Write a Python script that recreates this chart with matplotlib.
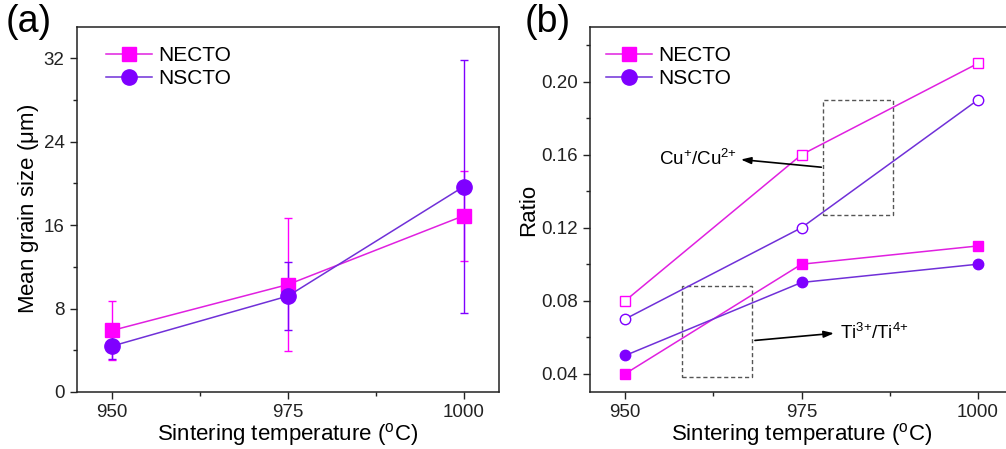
import numpy as np
import matplotlib
matplotlib.use("Agg")
import matplotlib.pyplot as plt
from matplotlib.lines import Line2D
from matplotlib.patches import Rectangle
from matplotlib.ticker import MultipleLocator, FormatStrFormatter

plt.rcParams['font.family'] = ['Liberation Sans', 'DejaVu Sans']
plt.rcParams['mathtext.fontset'] = 'custom'
plt.rcParams['mathtext.rm'] = 'Liberation Sans'
plt.rcParams['mathtext.it'] = 'Liberation Sans:italic'
plt.rcParams['mathtext.bf'] = 'Liberation Sans:bold'

# --- data ---
temps = [950, 975, 1000]

# (a) mean grain size (um) with error bars
necto_grain = [5.9, 10.3, 16.9]
necto_grain_err = [2.8, 6.4, 4.3]
nscto_grain = [4.4, 9.2, 19.7]
nscto_grain_err = [1.2, 3.3, 12.1]

# (b) ratios
necto_cu = [0.08, 0.16, 0.21]
nscto_cu = [0.07, 0.12, 0.19]
necto_ti = [0.04, 0.10, 0.11]
nscto_ti = [0.05, 0.09, 0.10]

C_E = '#ff00ff'
C_S = '#7f00ff'
L_E = '#e020e0'
L_S = '#7030d8'

fig = plt.figure(figsize=(10.06, 4.49), dpi=100)
ax1 = fig.add_axes([0.0765, 0.127, 0.4195, 0.813])
ax2 = fig.add_axes([0.5865, 0.127, 0.4205, 0.813])


def style_axis(ax):
    for s in ax.spines.values():
        s.set_linewidth(1.1)
        s.set_color('#222222')
    ax.tick_params(which='major', direction='out', length=5, width=1.0,
                   labelsize=13.5, colors='#222222', pad=4)
    ax.tick_params(which='minor', direction='out', length=3, width=1.0,
                   colors='#222222')
    ax.tick_params(top=False, right=False)
    ax.xaxis.set_major_locator(MultipleLocator(25))
    ax.xaxis.set_minor_locator(MultipleLocator(12.5))
    ax.set_xlim(945, 1005)
    ax.set_xlabel(r'Sintering temperature ($^{\mathrm{o}}$C)', fontsize=16, labelpad=0)


def legend_handles():
    return [Line2D([], [], color=L_E, lw=1.1, marker='s', ms=10, mfc=C_E, mec=C_E),
            Line2D([], [], color=L_S, lw=1.1, marker='o', ms=11, mfc=C_S, mec=C_S)]


# --- panel (a) ---
ax1.errorbar(temps, necto_grain, yerr=necto_grain_err, color=L_E, lw=1.1,
             marker='s', ms=10, mfc=C_E, mec=C_E, ecolor=C_E, elinewidth=1.0,
             capsize=3, capthick=1.0)
ax1.errorbar(temps, nscto_grain, yerr=nscto_grain_err, color=L_S, lw=1.1,
             marker='o', ms=11, mfc=C_S, mec=C_S, ecolor=C_S, elinewidth=1.0,
             capsize=3, capthick=1.0)
style_axis(ax1)
ax1.set_ylim(0, 35)
ax1.yaxis.set_major_locator(MultipleLocator(8))
ax1.yaxis.set_minor_locator(MultipleLocator(4))
ax1.set_ylabel(r'Mean grain size ($\mathrm{\mu}$m)', fontsize=16, labelpad=2)
ax1.legend(handles=legend_handles(), labels=['NECTO', 'NSCTO'],
           loc='upper left', bbox_to_anchor=(0.05, 0.97),
           frameon=False, fontsize=15, handlelength=2.2, handletextpad=0.3,
           labelspacing=0.2, borderaxespad=0)
fig.text(0.006, 0.952, '(a)', fontsize=27, va='center', ha='left')

# --- panel (b) ---
ax2.plot(temps, necto_cu, color=L_E, lw=1.1, marker='s', ms=6.5, mfc='white', mec=C_E, mew=1.0)
ax2.plot(temps, nscto_cu, color=L_S, lw=1.1, marker='o', ms=7.5, mfc='white', mec=C_S, mew=1.0)
ax2.plot(temps, necto_ti, color=L_E, lw=1.1, marker='s', ms=6.5, mfc=C_E, mec=C_E)
ax2.plot(temps, nscto_ti, color=L_S, lw=1.1, marker='o', ms=7.5, mfc=C_S, mec=C_S)
style_axis(ax2)
ax2.set_ylim(0.03, 0.23)
ax2.yaxis.set_major_locator(MultipleLocator(0.04))
ax2.yaxis.set_minor_locator(MultipleLocator(0.02))
ax2.yaxis.set_major_formatter(FormatStrFormatter('%.2f'))
ax2.set_ylabel('Ratio', fontsize=16, labelpad=1)

# dashed boxes and arrows
ax2.add_patch(Rectangle((978, 0.127), 10, 0.063, fill=False, ls=(0, (3, 2)),
                        lw=1.0, ec='#555555'))
ax2.add_patch(Rectangle((958, 0.038), 10, 0.050, fill=False, ls=(0, (3, 2)),
                        lw=1.0, ec='#555555'))
ax2.annotate('', xy=(966.0, 0.1575), xytext=(978.2, 0.153),
             arrowprops=dict(arrowstyle='-|>,head_length=0.6,head_width=0.2',
                             color='black', lw=1.2, mutation_scale=10))
ax2.text(965.8, 0.1575, r'Cu$^{{+}}$/Cu$^{2{+}}$', fontsize=13.5, ha='right', va='center')
ax2.annotate('', xy=(980.0, 0.0623), xytext=(968.0, 0.0581),
             arrowprops=dict(arrowstyle='-|>,head_length=0.6,head_width=0.2',
                             color='black', lw=1.2, mutation_scale=10))
ax2.text(980.4, 0.0623, r'Ti$^{3{+}}$/Ti$^{4{+}}$', fontsize=13.5, ha='left', va='center')

ax2.legend(handles=legend_handles(), labels=['NECTO', 'NSCTO'],
           loc='upper left', bbox_to_anchor=(0.018, 0.97),
           frameon=False, fontsize=15, handlelength=2.2, handletextpad=0.3,
           labelspacing=0.2, borderaxespad=0)
fig.text(0.521, 0.952, '(b)', fontsize=27, va='center', ha='left')

fig.savefig('out.png', dpi=100)
